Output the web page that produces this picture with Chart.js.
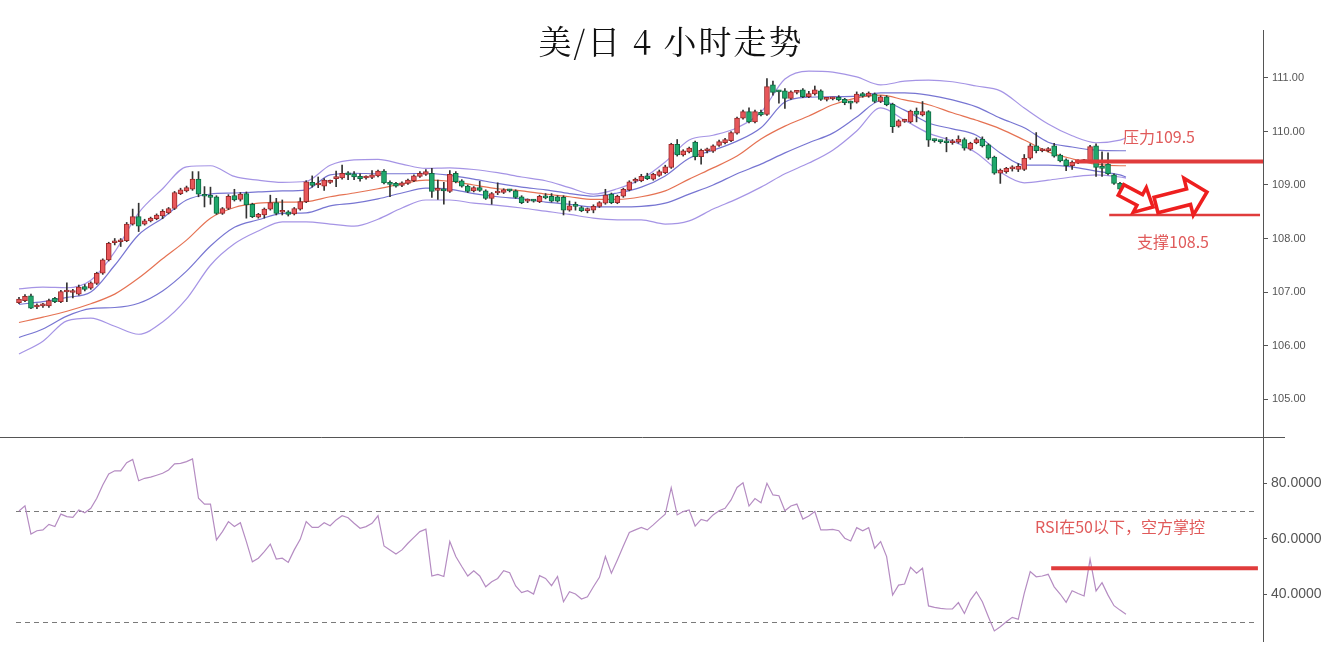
<!DOCTYPE html>
<html><head><meta charset="utf-8">
<script src="https://cdn.jsdelivr.net/npm/chart.js@4/dist/chart.umd.min.js"></script>
<style>html,body{margin:0;padding:0;background:#fff;}canvas{display:block;}</style>
</head><body>
<canvas id="c" width="1323" height="654"></canvas>
<script>
// ---- candle data (USD/JPY, 4h) ----
const openP = [106.80,106.84,106.93,106.72,106.74,106.74,106.88,106.82,107.00,106.99,106.96,107.10,107.07,107.16,107.35,107.60,107.92,107.94,107.96,108.27,
108.41,108.27,108.33,108.37,108.42,108.48,108.56,108.84,108.89,108.92,109.11,108.80,108.79,108.78,108.47,108.56,108.80,108.73,108.84,108.64,
108.40,108.44,108.55,108.67,108.49,108.50,108.46,108.55,108.69,109.05,109.00,108.98,109.05,109.12,109.13,109.20,109.21,109.16,109.13,109.14,
109.17,109.26,109.05,109.03,108.99,109.03,109.08,109.16,109.20,109.22,108.90,108.90,108.88,109.22,109.08,108.98,108.89,108.95,108.89,108.75,
108.85,108.86,108.90,108.89,108.78,108.70,108.71,108.69,108.79,108.79,108.78,108.77,108.53,108.61,108.58,108.52,108.53,108.60,108.66,108.83,
108.67,108.79,108.91,109.07,109.08,109.17,109.11,109.18,109.23,109.33,109.76,109.56,109.62,109.80,109.53,109.64,109.63,109.74,109.79,109.83,
109.97,110.25,110.37,110.18,110.36,110.32,110.87,110.75,110.76,110.62,110.73,110.78,110.65,110.70,110.76,110.60,110.61,110.64,110.60,110.55,
110.55,110.71,110.66,110.70,110.56,110.65,110.51,110.10,110.19,110.18,110.38,110.31,110.37,109.84,109.82,109.80,109.79,109.80,109.85,109.67,
109.79,109.86,109.75,109.52,109.22,109.25,109.30,109.29,109.29,109.50,109.73,109.64,109.64,109.73,109.56,109.47,109.36,109.42,109.44,109.44,
109.73,109.35,109.39,109.19,109.03,108.93];
const highP = [106.90,106.95,106.96,106.78,106.79,106.87,106.90,107.03,107.17,107.05,107.13,107.14,107.19,107.37,107.62,107.93,108.00,108.00,108.30,108.55,
108.66,108.36,108.40,108.46,108.54,108.58,108.88,108.94,108.98,109.25,109.25,108.97,108.96,108.80,108.58,108.82,108.92,108.86,108.87,108.66,
108.47,108.57,108.81,108.75,108.72,108.52,108.58,108.76,109.08,109.17,109.15,109.12,109.09,109.26,109.37,109.25,109.25,109.21,109.17,109.27,
109.28,109.29,109.08,109.05,109.06,109.11,109.19,109.25,109.29,109.31,109.09,109.05,109.27,109.25,109.10,109.00,108.97,109.07,108.91,108.86,
109.04,108.93,108.92,108.91,108.80,108.74,108.73,108.81,108.84,108.84,108.80,108.80,108.70,108.68,108.60,108.57,108.63,108.69,108.92,108.85,
108.81,108.94,109.08,109.13,109.20,109.22,109.22,109.28,109.37,109.78,109.85,109.66,109.71,109.82,109.67,109.69,109.75,109.84,109.87,110.00,
110.27,110.40,110.44,110.40,110.40,110.99,110.94,110.77,110.80,110.76,110.77,110.80,110.75,110.85,110.78,110.63,110.64,110.67,110.62,110.57,
110.74,110.73,110.74,110.72,110.67,110.67,110.53,110.22,110.23,110.40,110.44,110.56,110.39,109.86,109.84,109.89,109.85,109.92,109.88,109.80,
109.88,109.90,109.77,109.54,109.30,109.33,109.36,109.40,109.57,109.77,109.98,109.68,109.70,109.78,109.58,109.49,109.45,109.47,109.48,109.74,
109.77,109.62,109.60,109.21,109.05,108.95];
const lowP = [106.78,106.82,106.69,106.69,106.71,106.71,106.80,106.80,106.82,106.89,106.94,107.02,107.05,107.14,107.33,107.58,107.88,107.85,107.94,108.25,
108.13,108.25,108.31,108.35,108.37,108.46,108.54,108.82,108.87,108.90,108.78,108.59,108.64,108.45,108.45,108.54,108.70,108.70,108.38,108.39,
108.38,108.38,108.53,108.44,108.44,108.42,108.44,108.53,108.67,108.96,108.95,108.90,109.03,108.97,109.11,109.10,109.10,109.07,109.11,109.12,
109.15,109.02,108.78,108.96,108.97,109.01,109.06,109.14,109.18,108.77,108.73,108.64,108.86,109.04,108.96,108.86,108.87,108.88,108.73,108.64,
108.82,108.84,108.87,108.75,108.65,108.67,108.68,108.67,108.74,108.68,108.68,108.44,108.51,108.53,108.50,108.48,108.48,108.58,108.64,108.65,
108.65,108.77,108.89,109.04,109.06,109.10,109.09,109.16,109.21,109.31,109.54,109.54,109.60,109.47,109.39,109.60,109.61,109.72,109.77,109.81,
109.95,110.23,110.16,110.16,110.29,110.30,110.68,110.53,110.43,110.60,110.70,110.63,110.63,110.68,110.58,110.57,110.59,110.57,110.50,110.42,
110.53,110.64,110.64,110.54,110.54,110.48,109.98,110.08,110.17,110.16,110.18,110.29,109.72,109.80,109.78,109.62,109.76,109.78,109.65,109.65,
109.77,109.71,109.48,109.20,109.03,109.22,109.26,109.25,109.27,109.48,109.60,109.62,109.62,109.52,109.43,109.27,109.29,109.40,109.42,109.42,
109.16,109.16,109.19,109.01,108.90,108.83];
const closeP = [106.87,106.92,106.70,106.74,106.75,106.84,106.82,107.01,107.01,107.00,107.09,107.05,107.17,107.35,107.60,107.91,107.94,107.96,108.27,108.41,
108.23,108.33,108.38,108.44,108.51,108.56,108.86,108.91,108.95,109.11,108.83,108.79,108.77,108.47,108.56,108.79,108.72,108.83,108.63,108.41,
108.45,108.55,108.67,108.47,108.50,108.45,108.56,108.69,109.06,108.99,109.01,109.09,109.06,109.13,109.22,109.19,109.15,109.12,109.14,109.19,
109.26,109.04,109.01,108.98,109.04,109.09,109.17,109.22,109.25,108.88,108.91,108.89,109.20,109.06,108.98,108.88,108.95,108.90,108.75,108.84,
108.86,108.91,108.89,108.77,108.67,108.71,108.70,108.79,108.76,108.70,108.70,108.53,108.61,108.60,108.52,108.53,108.60,108.67,108.81,108.67,
108.79,108.92,109.06,109.08,109.16,109.12,109.20,109.25,109.34,109.76,109.56,109.64,109.69,109.53,109.65,109.65,109.73,109.81,109.85,109.98,
110.25,110.37,110.18,110.37,110.31,110.84,110.73,110.74,110.62,110.74,110.74,110.65,110.71,110.78,110.60,110.61,110.62,110.59,110.54,110.53,
110.70,110.66,110.72,110.56,110.65,110.50,110.09,110.20,110.20,110.38,110.32,110.37,109.84,109.83,109.81,109.79,109.81,109.86,109.69,109.78,
109.85,109.73,109.50,109.22,109.28,109.31,109.31,109.35,109.50,109.73,109.64,109.65,109.68,109.54,109.45,109.36,109.43,109.45,109.45,109.72,
109.33,109.31,109.21,109.03,108.92,108.85];

// ---- Bollinger-style bands (read at every 4th candle) ----
const bandIdx = [0,4,8,12,16,20,24,28,32,36,40,44,48,52,56,60,64,68,72,76,80,84,88,92,96,100,104,108,112,116,120,124,128,132,136,140,144,148,152,156,160,164,168,172,176,180,184,185];
const bbUpper2 = [107.06,107.09,107.08,107.22,107.75,108.48,108.93,109.34,109.36,109.16,109.09,109.05,109.07,109.37,109.47,109.48,109.39,109.31,109.32,109.29,
109.23,109.15,109.08,108.95,108.83,108.93,109.11,109.43,109.84,109.93,110.07,110.36,110.98,111.13,111.11,111.02,110.87,110.94,110.96,110.93,
110.85,110.76,110.44,110.14,109.92,109.79,109.84,109.88];
const bbUpper1 = [106.77,106.82,106.90,107.00,107.50,108.07,108.38,108.72,108.83,108.85,108.87,108.89,108.91,109.19,109.22,109.21,109.21,109.22,109.18,109.11,
109.03,108.96,108.91,108.84,108.79,108.85,108.96,109.17,109.50,109.65,109.82,110.07,110.55,110.64,110.65,110.66,110.72,110.72,110.68,110.59,
110.46,110.25,110.07,109.80,109.71,109.65,109.64,109.64];
const bbMid = [106.43,106.53,106.64,106.78,106.96,107.26,107.62,107.97,108.38,108.58,108.66,108.68,108.69,108.78,108.85,108.93,109.02,109.09,109.07,109.00,
108.93,108.89,108.83,108.78,108.73,108.73,108.78,108.89,109.11,109.32,109.54,109.86,110.10,110.29,110.50,110.63,110.68,110.59,110.50,110.35,
110.21,110.05,109.84,109.62,109.49,109.39,109.36,109.36];
const bbLower1 = [106.15,106.31,106.55,106.69,106.71,106.79,107.02,107.39,107.86,108.21,108.35,108.47,108.48,108.61,108.66,108.74,108.85,108.94,108.92,108.84,
108.78,108.74,108.68,108.64,108.59,108.59,108.60,108.66,108.83,109.00,109.21,109.39,109.60,109.79,109.97,110.27,110.57,110.40,110.16,110.05,
109.93,109.60,109.37,109.37,109.34,109.26,109.19,109.15];
const bbLower2 = [105.84,106.08,106.46,106.51,106.36,106.21,106.44,106.87,107.50,107.90,108.14,108.31,108.31,108.27,108.23,108.36,108.57,108.72,108.72,108.66,
108.62,108.57,108.51,108.45,108.38,108.35,108.35,108.27,108.33,108.55,108.74,108.96,109.21,109.41,109.65,110.01,110.44,110.21,109.97,109.82,
109.60,109.24,109.04,109.09,109.15,109.19,109.15,109.13];

// ---- RSI ----
const rsiValues = [70.0,71.9,61.7,62.9,63.2,65.2,64.4,68.9,68.0,67.7,70.4,69.4,71.0,74.6,79.4,83.4,84.5,84.5,87.4,88.6,
80.9,81.8,82.2,82.9,83.6,84.8,87.0,87.2,87.8,88.8,74.6,72.5,72.5,59.6,62.6,66.2,64.4,65.8,59.0,51.7,
53.0,55.4,58.1,52.7,53.0,51.5,56.0,59.8,66.2,64.1,64.1,65.8,64.7,66.8,68.3,67.6,65.6,63.8,64.4,65.6,
68.3,57.4,56.0,54.5,56.0,58.4,60.5,62.6,63.5,46.6,47.2,46.4,59.0,53.6,50.0,46.6,48.5,46.6,42.7,44.5,
45.7,48.5,47.8,43.0,40.6,41.3,40.1,46.7,45.7,43.1,46.4,37.3,40.9,40.1,38.3,39.1,42.7,46.1,53.6,47.6,
52.4,57.4,62.3,63.2,64.1,63.2,65.0,67.0,68.9,78.4,68.6,69.8,70.4,64.6,67.0,66.4,68.6,70.1,71.0,74.0,
78.5,80.2,71.8,74.5,73.0,80.0,75.8,75.5,70.1,71.8,72.5,67.1,68.2,69.8,63.2,63.2,63.4,62.9,60.2,59.2,
64.0,62.9,64.0,56.6,59.0,53.6,39.7,43.3,43.7,49.7,47.6,49.4,35.8,35.3,34.9,34.7,34.7,37.0,33.1,37.9,
40.9,37.3,31.9,26.8,28.3,30.1,31.7,31.0,40.3,48.2,46.3,46.6,47.2,42.7,40.1,37.1,41.3,40.3,39.4,52.6,
41.2,44.2,39.7,35.9,34.3,32.8];

const priceTicks = [105, 106, 107, 108, 109, 110, 111];
const rsiTicks = [40, 60, 80];
const rsiGuides = [70, 30];
const resistanceLevel = 109.44;
const supportLevel = 108.44;
const rsiSignalLevel = 49.4;
const titleText = '美/日 4 小时走势';
const resistanceText = '压力109.5';
const supportText = '支撑108.5';
const rsiText = 'RSI在50以下，空方掌控';

const idx = closeP.map((_, i) => i);
const upCol = '#e8575a', upBorder = '#9b2b2b';
const dnCol = '#20a86c', dnBorder = '#0e6a43';
const isUp = idx.map(i => closeP[i] >= openP[i]);

function bandData(arr) { return bandIdx.map((x, k) => ({x, y: arr[k]})); }
function lineDs(arr, color) {
  return { type: 'line', data: bandData(arr), yAxisID: 'y', borderColor: color, borderWidth: 1.2,
    pointRadius: 0, cubicInterpolationMode: 'monotone', order: 3 };
}

function drawArrow(ctx, tx, ty, hx, hy, sh, hh, hl) {
  const dx = hx - tx, dy = hy - ty, L = Math.hypot(dx, dy);
  const ux = dx / L, uy = dy / L, nx = -uy, ny = ux;
  const bx = hx - ux * hl, by = hy - uy * hl;
  ctx.beginPath();
  ctx.moveTo(tx + nx * sh, ty + ny * sh);
  ctx.lineTo(bx + nx * sh, by + ny * sh);
  ctx.lineTo(bx + nx * hh, by + ny * hh);
  ctx.lineTo(hx, hy);
  ctx.lineTo(bx - nx * hh, by - ny * hh);
  ctx.lineTo(bx - nx * sh, by - ny * sh);
  ctx.lineTo(tx - nx * sh, ty - ny * sh);
  ctx.closePath();
  ctx.fillStyle = '#fff'; ctx.fill();
  ctx.strokeStyle = '#ee1f1f'; ctx.lineWidth = 3.5; ctx.lineJoin = 'miter'; ctx.stroke();
}

const deco = {
  id: 'deco',
  beforeDatasetsDraw(chart) {
    const {ctx} = chart; const xs = chart.scales.x, y2 = chart.scales.y2;
    ctx.save();
    ctx.strokeStyle = '#7a7a7a'; ctx.lineWidth = 1; ctx.setLineDash([5, 4]);
    rsiGuides.forEach(v => {
      const py = Math.round(y2.getPixelForValue(v)) + 0.5;
      ctx.beginPath(); ctx.moveTo(xs.getPixelForValue(-0.5), py); ctx.lineTo(1258, py); ctx.stroke();
    });
    ctx.restore();
  },
  afterDraw(chart) {
    const {ctx} = chart; const xs = chart.scales.x, ys = chart.scales.y, y2 = chart.scales.y2;
    ctx.save();
    // pane separator
    const sep = Math.round(ys.bottom) + 0.5;
    ctx.strokeStyle = '#555'; ctx.lineWidth = 1;
    ctx.beginPath(); ctx.moveTo(0, sep); ctx.lineTo(1285, sep); ctx.stroke();
    // level lines
    ctx.strokeStyle = '#e03c3c';
    ctx.lineWidth = 4;
    let py = ys.getPixelForValue(resistanceLevel);
    ctx.beginPath(); ctx.moveTo(xs.getPixelForValue(176.5), py); ctx.lineTo(chart.chartArea.right, py); ctx.stroke();
    ctx.lineWidth = 2.5;
    py = ys.getPixelForValue(supportLevel);
    ctx.beginPath(); ctx.moveTo(xs.getPixelForValue(182.2), py); ctx.lineTo(xs.getPixelForValue(207.4), py); ctx.stroke();
    ctx.lineWidth = 4;
    py = y2.getPixelForValue(rsiSignalLevel);
    ctx.beginPath(); ctx.moveTo(xs.getPixelForValue(172.5), py); ctx.lineTo(xs.getPixelForValue(207.05), py); ctx.stroke();
    // arrows
    drawArrow(ctx, 1121, 190, 1153, 207, 6, 14, 15);
    drawArrow(ctx, 1156, 205, 1207, 192, 8, 19, 19);
    // annotation texts
    ctx.fillStyle = '#e05a5a';
    ctx.font = '16px "Noto Sans CJK SC", sans-serif';
    ctx.textBaseline = 'middle'; ctx.textAlign = 'left';
    ctx.fillText(resistanceText, 1123, 137);
    ctx.fillText(supportText, 1137, 242);
    ctx.fillText(rsiText, 1035, 527);
    // title
    ctx.fillStyle = '#111';
    ctx.font = '33px "Noto Serif CJK SC", "Noto Sans CJK SC", serif';
    ctx.textAlign = 'center';
    try { ctx.letterSpacing = '2px'; } catch (e) {}
    ctx.fillText(titleText, 671, 41);
    ctx.restore();
  }
};

new Chart(document.getElementById('c'), {
  type: 'line',
  data: {
    datasets: [
      { type: 'bar', label: 'body', data: idx.map(i => ({x: i, y: [openP[i], closeP[i]]})), yAxisID: 'y',
        backgroundColor: idx.map(i => isUp[i] ? upCol : dnCol), borderColor: idx.map(i => isUp[i] ? upBorder : dnBorder),
        borderWidth: 1, borderSkipped: false, barThickness: 5, minBarLength: 2, grouped: false, order: 1 },
      { type: 'bar', label: 'wick', data: idx.map(i => ({x: i, y: [lowP[i], highP[i]]})), yAxisID: 'y',
        backgroundColor: '#333', borderWidth: 0, barThickness: 1, grouped: false, order: 2 },
      lineDs(bbUpper2, 'rgba(160,142,228,0.95)'),
      lineDs(bbUpper1, 'rgba(112,110,208,0.95)'),
      lineDs(bbMid, 'rgba(228,106,74,0.95)'),
      lineDs(bbLower1, 'rgba(112,110,208,0.95)'),
      lineDs(bbLower2, 'rgba(160,142,228,0.95)'),
      { type: 'line', label: 'RSI', data: idx.map(i => ({x: i, y: rsiValues[i]})), yAxisID: 'y2',
        borderColor: '#b58cc2', borderWidth: 1.2, pointRadius: 0, tension: 0, order: 3 }
    ]
  },
  options: {
    responsive: false, animation: false, devicePixelRatio: 1,
    layout: { padding: { left: 16, top: 30, right: 0, bottom: 13 } },
    plugins: { legend: { display: false }, tooltip: { enabled: false }, title: { display: false } },
    scales: {
      x: { type: 'linear', min: -0.5, max: 207.9, offset: false, display: false },
      y: { type: 'linear', position: 'right', stack: 'pane', stackWeight: 407, offset: false,
        min: 104.29, max: 111.897,
        grid: { drawOnChartArea: false, drawTicks: true, tickLength: 5, color: '#555' },
        border: { display: true, color: '#555' },
        ticks: { color: '#555', padding: 4, font: { family: 'Liberation Sans', size: 11 }, callback: v => Number(v).toFixed(2) },
        afterBuildTicks: ax => { ax.ticks = priceTicks.map(v => ({value: v})); },
        afterFit: ax => { ax.width = 60; } },
      y2: { type: 'linear', position: 'right', stack: 'pane', stackWeight: 204, offset: false,
        min: 23.17, max: 96.68,
        grid: { drawOnChartArea: false, drawTicks: true, tickLength: 4, color: '#555' },
        border: { display: true, color: '#555' },
        ticks: { color: '#555', padding: 4, font: { family: 'Liberation Sans', size: 14 }, callback: v => Number(v).toFixed(4) },
        afterBuildTicks: ax => { ax.ticks = rsiTicks.map(v => ({value: v})); },
        afterFit: ax => { ax.width = 60; } }
    }
  },
  plugins: [deco]
});
</script>
</body></html>
